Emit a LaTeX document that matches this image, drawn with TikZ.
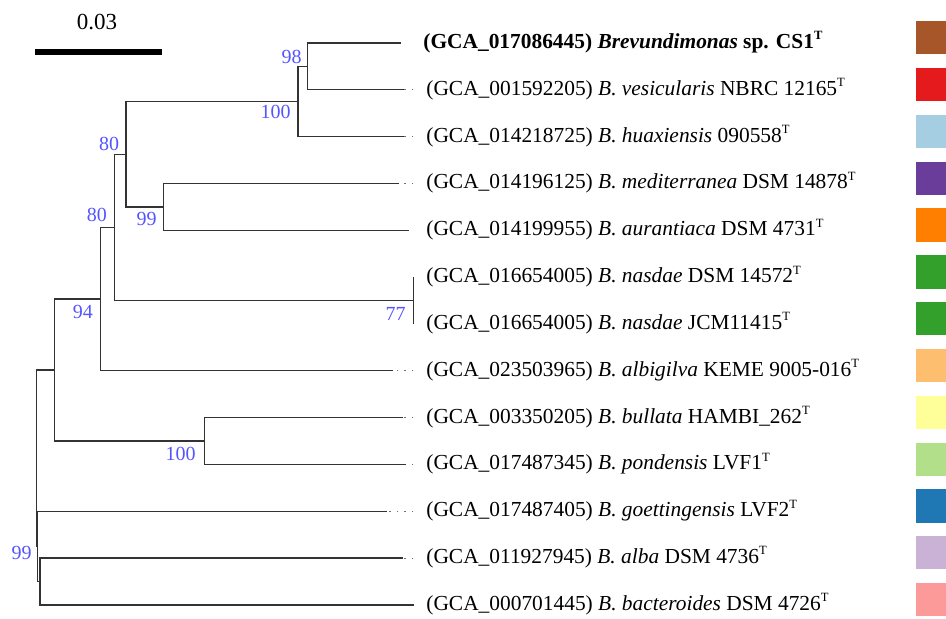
\documentclass[tikz,border=0pt]{standalone}
\usepackage{fontspec}
\setmainfont{Liberation Serif}
\definecolor{TreeDark}{HTML}{333333}
\definecolor{BootBlue}{HTML}{5555FF}
\definecolor{DotGray}{HTML}{707070}
\definecolor{BarBrown}{HTML}{A65628}
\definecolor{BarRed}{HTML}{E41A1C}
\definecolor{BarSky}{HTML}{A6CEE3}
\definecolor{BarPurple}{HTML}{6A3D9A}
\definecolor{BarOrange}{HTML}{FF7F00}
\definecolor{BarGreen}{HTML}{33A02C}
\definecolor{BarApricot}{HTML}{FDBF6F}
\definecolor{BarYellow}{HTML}{FFFF99}
\definecolor{BarLime}{HTML}{B2DF8A}
\definecolor{BarBlue}{HTML}{1F78B4}
\definecolor{BarLilac}{HTML}{CAB2D6}
\definecolor{BarPink}{HTML}{FB9A99}
\newcommand{\typeT}{\raisebox{4.3pt}{\fontsize{6.3}{7}\selectfont T}}
\usetikzlibrary{positioning}
\tikzset{
  branch/.style={draw=TreeDark, line width=0.65pt},
  ext/.style={draw=DotGray, line width=0.55pt, dash pattern=on 0.9pt off 2.85pt},
  boot/.style={font=\fontsize{10}{12}\selectfont, text=BootBlue, inner sep=0pt},
  taxon/.style={font=\fontsize{10.7}{12}\selectfont, anchor=base west, inner sep=0pt, yshift=-2.7pt},
  scalebar/.style={draw=black, line width=3pt},
  scalelabel/.style={font=\fontsize{11.5}{13}\selectfont, inner sep=0pt}
}

\begin{document}
\begin{tikzpicture}[x=0.5pt, y=-0.5pt]
    \useasboundingbox (0,0) rectangle (946,618);
    % leaf tips
    \coordinate (t1) at (401,43.0);
    \coordinate (t2) at (404,89.8);
    \coordinate (t3) at (403.5,136.7);
    \coordinate (t4) at (399,183.5);
    \coordinate (t5) at (408.7,230.3);
    \coordinate (t6) at (413.3,277.2);
    \coordinate (t7) at (413.3,324.0);
    \coordinate (t8) at (392.7,370.8);
    \coordinate (t9) at (402.7,417.6);
    \coordinate (t10) at (406,464.5);
    \coordinate (t11) at (386.7,511.3);
    \coordinate (t12) at (402.7,558.1);
    \coordinate (t13) at (414.3,605.0);
    % inner nodes
    \coordinate (n98) at (307.7,66.4);
    \coordinate (n100a) at (298,101.5);
    \coordinate (n99a) at (163.3,206.9);
    \coordinate (n80a) at (126,154.2);
    \coordinate (n77) at (413.3,300.6);
    \coordinate (n80b) at (114.3,227.4);
    \coordinate (n94) at (100.7,299.1);
    \coordinate (n100b) at (204.3,441);
    \coordinate (nclade) at (54.3,370);
    \coordinate (nalba) at (40,581.6);
    \coordinate (n99r) at (37.7,546.5);
    \coordinate (root) at (36.7,458);
    \coordinate (lab) at (426,0);

    \draw[branch] (t1) -| (n98) |- (t2);
    \draw[branch] (n98) -| (n100a) |- (t3);
    \draw[branch] (t4) -| (n99a) |- (t5);
    \draw[branch] (n100a) -| (n80a) |- (n99a);
    \draw[branch] (t6) -| (n77) |- (t7);
    \draw[branch] (n80a) -| (n80b) |- (n77);
    \draw[branch] (n80b) -| (n94) |- (t8);
    \draw[branch] (t9) -| (n100b) |- (t10);
    \draw[branch] (n94) -| (nclade) |- (n100b);
    \draw[branch] (t12) -| (nalba) |- (t13);
    \draw[branch] (t11) -| (n99r) |- (nalba);
    \draw[branch] (nclade) -| (root) |- (n99r);

    \foreach \k in {t2,t3,t4,t8,t9,t10,t11,t12}
      \draw[ext] (\k -| n77) -- (\k);

    \node[boot, above left=1.2pt and 2.8pt of n98] (b98) {98};
    \node[boot, below left=1.7pt and 3.5pt of n100a] (b100a) {100};
    \node[boot, above left=1.6pt and 3.3pt of n80a] (b80a) {80};
    \node[boot, below left=2.3pt and 3.1pt of n99a] (b99a) {99};
    \node[boot, above left=2.5pt and 3.5pt of n80b] (b80b) {80};
    \node[boot, below left=2.9pt and 3.7pt of n94] (b94) {94};
    \node[boot, below left=3pt and 3.6pt of n77] (b77) {77};
    \node[boot, below left=2.7pt and 4.1pt of n100b] (b100b) {100};
    \node[boot, below left=-0.5pt and 2.9pt of n99r] (b99r) {99};

    \node[taxon, xshift=-1.5pt] (s1) at (t1 -| lab) {\textbf{(GCA\_017086445) \textit{Brevundimonas} sp. CS1\typeT}};
    \node[taxon] (s2) at (t2 -| lab) {(GCA\_001592205) \textit{B. vesicularis} NBRC 12165\typeT};
    \node[taxon] (s3) at (t3 -| lab) {(GCA\_014218725) \textit{B. huaxiensis} 090558\typeT};
    \node[taxon] (s4) at (t4 -| lab) {(GCA\_014196125) \textit{B. mediterranea} DSM 14878\typeT};
    \node[taxon] (s5) at (t5 -| lab) {(GCA\_014199955) \textit{B. aurantiaca} DSM 4731\typeT};
    \node[taxon] (s6) at (t6 -| lab) {(GCA\_016654005) \textit{B. nasdae} DSM 14572\typeT};
    \node[taxon] (s7) at (t7 -| lab) {(GCA\_016654005) \textit{B. nasdae} JCM11415\typeT};
    \node[taxon] (s8) at (t8 -| lab) {(GCA\_023503965) \textit{B. albigilva} KEME 9005-016\typeT};
    \node[taxon] (s9) at (t9 -| lab) {(GCA\_003350205) \textit{B. bullata} HAMBI\_262\typeT};
    \node[taxon] (s10) at (t10 -| lab) {(GCA\_017487345) \textit{B. pondensis} LVF1\typeT};
    \node[taxon] (s11) at (t11 -| lab) {(GCA\_017487405) \textit{B. goettingensis} LVF2\typeT};
    \node[taxon] (s12) at (t12 -| lab) {(GCA\_011927945) \textit{B. alba} DSM 4736\typeT};
    \node[taxon] (s13) at (t13 -| lab) {(GCA\_000701445) \textit{B. bacteroides} DSM 4726\typeT};

    \foreach \c [count=\i] in {BarBrown,BarRed,BarSky,BarPurple,BarOrange,BarGreen,BarGreen,BarApricot,BarYellow,BarLime,BarBlue,BarLilac,BarPink}
      \fill[\c] (916,{43+46.83*(\i-1)-21.95}) rectangle ++(30,33.3);

    \coordinate (sbL) at (35,51.7);
    \coordinate (sbR) at (161.7,51.7);
    \draw[scalebar] (sbL) -- (sbR);
    \node[scalelabel] (sbtext) at (97,21.7) {0.03};
  \end{tikzpicture}
\end{document}
